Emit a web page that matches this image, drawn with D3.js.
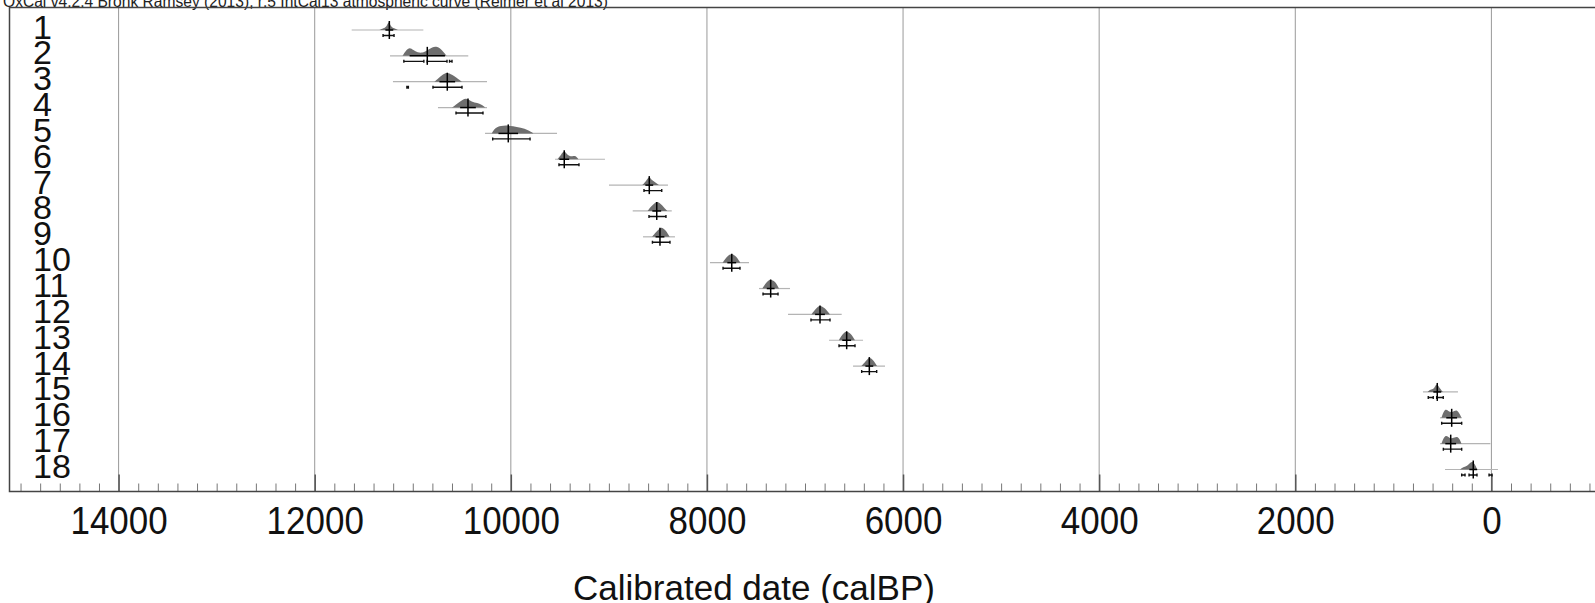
<!DOCTYPE html>
<html>
<head>
<meta charset="utf-8">
<script src="https://cdn.jsdelivr.net/npm/d3@7"></script>
<style>
  body { margin: 0; background: #fff; }
  svg { display: block; font-family: Arial, "Liberation Sans", sans-serif; }
</style>
</head>
<body>
<div id="chart"></div>
<script>
// OxCal multiplot (years calBP)
const title = "OxCal v4.2.4 Bronk Ramsey (2013); r:5 IntCal13 atmospheric curve (Reimer et al 2013)";
const axisTitle = "Calibrated date (calBP)";

const labels = ["1","2","3","4","5","6","7","8","9","10","11","12","13","14","15","16","17","18"];

// extent of the light grey (unmodelled) trace
const likeFrom = [11623, 11232, 11202, 10743, 10263, 9549, 8999, 8757, 8652, 7969, 7469, 7173, 6755, 6510, 698, 524, 524, 473];
const likeTo   = [10892, 10434, 10243, 10243, 9529, 9040, 8397, 8359, 8326, 7571, 7153, 6626, 6408, 6184, 341, 303, 10, -67];

// cross: median and +/- sigma
const median = [11239, 10852, 10648, 10437, 10026, 9455, 8588, 8512, 8479, 7747, 7350, 6847, 6575, 6344, 552, 405, 415, 185];
const sigma  = [40, 180, 80, 80, 100, 50, 40, 45, 45, 45, 40, 50, 45, 40, 40, 55, 55, 40];

// 95.4% ranges (can be split)
const ranges = [
  [[11303, 11191]],
  [[11091, 10887], [10852, 10651], [10625, 10600]],
  [[11060, 11045], [10794, 10498]],
  [[10559, 10284]],
  [[10185, 9804]],
  [[9509, 9305]],
  [[8642, 8461]],
  [[8591, 8418]],
  [[8556, 8377]],
  [[7836, 7663]],
  [[7428, 7275]],
  [[6939, 6745]],
  [[6653, 6490]],
  [[6422, 6269]],
  [[644, 593], [558, 491]],
  [[507, 303]],
  [[490, 303]],
  [[303, 269], [228, 147], [24, -6]]
];

// modelled distributions: [year, relative height]
const posterior = [
  [[11340,0],[11300,0.2],[11265,0.35],[11245,1],[11225,0.35],[11190,0.2],[11150,0]],
  [[11105,0],[11070,0.6],[11030,0.9],[10995,0.6],[10950,0.35],[10900,0.3],[10860,0.55],[10800,0.95],[10750,1],[10700,0.6],[10655,0]],
  [[10780,0],[10740,0.35],[10690,0.8],[10650,1],[10600,0.75],[10550,0.4],[10500,0]],
  [[10600,0],[10550,0.4],[10490,0.85],[10450,1],[10400,0.6],[10340,0.5],[10300,0.3],[10260,0]],
  [[10195,0],[10160,0.6],[10100,0.8],[10040,0.85],[9980,0.75],[9900,0.6],[9820,0.35],[9770,0]],
  [[9525,0],[9485,0.5],[9455,1],[9420,0.35],[9370,0.3],[9340,0.4],[9310,0]],
  [[8660,0],[8620,0.4],[8590,1],[8560,0.45],[8510,0.2],[8490,0]],
  [[8605,0],[8570,0.5],[8530,0.85],[8510,1],[8475,0.8],[8440,0.4],[8405,0]],
  [[8560,0],[8520,0.5],[8480,0.9],[8460,1],[8420,0.7],[8380,0]],
  [[7840,0],[7800,0.6],[7755,1],[7700,0.7],[7660,0]],
  [[7435,0],[7400,0.6],[7360,1],[7330,0.85],[7300,0.7],[7265,0]],
  [[6935,0],[6890,0.6],[6850,1],[6800,0.7],[6745,0]],
  [[6655,0],[6620,0.6],[6580,1],[6530,0.7],[6490,0]],
  [[6425,0],[6380,0.5],[6345,1],[6300,0.6],[6265,0]],
  [[650,0],[620,0.3],[590,0.2],[560,1],[530,0.4],[495,0]],
  [[510,0],[475,1],[440,0.7],[400,0.5],[350,1],[305,0]],
  [[510,0],[470,1],[430,0.6],[400,0.5],[340,0.9],[305,0]],
  [[320,0],[280,0.3],[240,0.4],[195,1],[160,0.4],[145,0]]
];

const majorTicks = [14000, 12000, 10000, 8000, 6000, 4000, 2000, 0];
const minorTicks = d3.range(-1000, 15001, 200).filter(d => d % 2000 != 0);

const width = 1595, height = 603;
const frame = { left: 9.5, top: 7.5, bottom: 491.5 };

const svg = d3.select("#chart").append("svg")
    .attr("width", width)
    .attr("height", height);

const x = d3.scaleLinear()
    .domain([14000, 0])
    .range([118.6, 1491.4]);

const y = d3.scalePoint()
    .domain(labels)
    .range([30, 469.5]);

const h = d3.scaleLinear().domain([0, 1]).range([0, 9.5]);

// title, mostly cut off at the top
svg.append("text")
    .attr("x", 3)
    .attr("y", 6.5)
    .attr("font-size", 15.6)
    .attr("fill", "#222")
    .text(title);

// gridlines
svg.append("g").selectAll("line")
  .data(majorTicks)
  .enter().append("line")
    .attr("x1", d => x(d))
    .attr("x2", d => x(d))
    .attr("y1", frame.top)
    .attr("y2", frame.bottom)
    .attr("stroke", "#999")
    .attr("stroke-width", 1);

// axes
const axisG = svg.append("g")
    .attr("transform", "translate(0," + frame.bottom + ")");

axisG.append("g")
    .call(d3.axisBottom(x).tickValues(minorTicks).tickSize(-8).tickFormat(""))
    .call(g => g.select(".domain").remove())
    .call(g => g.selectAll("line").attr("stroke", "#777"));

axisG.append("g")
    .call(d3.axisBottom(x).tickValues(majorTicks).tickSize(-17).tickFormat(d3.format("d")))
    .attr("font-size", 35)
    .attr("font-family", "Arial, 'Liberation Sans', sans-serif")
    .call(g => g.select(".domain").remove())
    .call(g => g.selectAll("line").attr("stroke", "#555").attr("stroke-width", 1.5))
    .call(g => g.selectAll("text")
        .attr("y", 0)
        .attr("dy", 0)
        .attr("transform", "translate(0,42) scale(1,1.12)")
        .attr("fill", "#111"));

// frame
svg.append("path")
    .attr("d", "M" + width + "," + frame.top + "H" + frame.left + "V" + frame.bottom + "H" + width)
    .attr("fill", "none")
    .attr("stroke", "#444")
    .attr("stroke-width", 1.5);

svg.append("text")
    .attr("x", 754)
    .attr("y", 600)
    .attr("text-anchor", "middle")
    .attr("font-size", 35)
    .attr("fill", "#111")
    .text(axisTitle);

// row labels (tightly stacked, as in the original)
svg.append("g").selectAll("text")
  .data(labels)
  .enter().append("text")
    .attr("transform", d => "translate(33," + (y(d) + 8.5) + ") scale(1.1,1.06)")
    .attr("font-size", 31)
    .attr("fill", "#111")
    .text(d => d);

// one group per row
const rows = svg.append("g").selectAll("g")
  .data(labels.map((d, i) => ({
    label: d, from: likeFrom[i], to: likeTo[i], median: median[i],
    sigma: sigma[i], ranges: ranges[i], dist: posterior[i]
  })))
  .enter().append("g")
    .attr("transform", d => "translate(0," + y(d.label) + ")");

rows.append("line")
    .attr("x1", d => x(d.from))
    .attr("x2", d => x(d.to))
    .attr("stroke", "#b4b4b4")
    .attr("stroke-width", 1.2);

const area = d3.area()
    .curve(d3.curveBasis)
    .x(d => x(d[0]))
    .y0(0)
    .y1(d => -h(d[1]));

rows.append("path")
    .attr("d", d => area(d.dist))
    .attr("fill", "#6e6e6e");

// range bars
rows.selectAll(".range")
  .data(d => d.ranges)
  .enter().append("path")
    .attr("class", "range")
    .attr("d", r => "M" + x(r[0]) + ",4V7M" + x(r[0]) + ",5.5H" + x(r[1]) + "M" + x(r[1]) + ",4V7")
    .attr("fill", "none")
    .attr("stroke", "#111")
    .attr("stroke-width", 1.4);

// cross
rows.append("line")
    .attr("x1", d => x(d.median))
    .attr("x2", d => x(d.median))
    .attr("y1", -9)
    .attr("y2", 9)
    .attr("stroke", "#000")
    .attr("stroke-width", 1.5);

rows.append("line")
    .attr("x1", d => x(d.median + d.sigma))
    .attr("x2", d => x(d.median - d.sigma))
    .attr("y1", 0)
    .attr("y2", 0)
    .attr("stroke", "#000")
    .attr("stroke-width", 1.5);
</script>
</body>
</html>
